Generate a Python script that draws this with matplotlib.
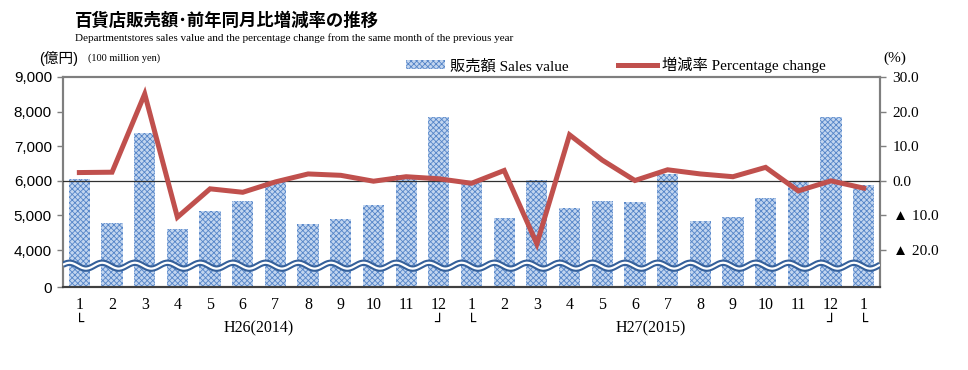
import matplotlib
matplotlib.use("Agg")
import matplotlib.pyplot as plt
import numpy as np
from matplotlib.patches import Patch
from matplotlib.lines import Line2D
from matplotlib.transforms import blended_transform_factory

                                                # Data
months = ["1", "2", "3", "4", "5", "6", "7", "8", "9", "10", "11", "12",
          "1", "2", "3", "4", "5", "6", "7", "8", "9", "10", "11", "12", "1"]
sales = [6050, 4790, 7375, 4620, 5140, 5415, 6010, 4750, 4900, 5300, 6165, 7835,
         5990, 4925, 6020, 5220, 5420, 5395, 6200, 4830, 4950, 5510, 5980, 7835, 5875]
pct_change = [2.4, 2.5, 25.1, -10.5, -2.3, -3.3, -0.3, 2.0, 1.6, -0.1, 1.2, 0.6,
              -0.7, 3.0, -18.2, 13.3, 6.0, 0.1, 3.2, 2.0, 1.2, 3.9, -2.9, 0.0, -2.1]
left_ticks = [4000, 5000, 6000, 7000, 8000, 9000]
right_ticks = [-20, -10, 0, 10, 20, 30]
year_labels = ["H26(2014)", "H27(2015)"]

SERIF = ["Liberation Serif", "Noto Sans CJK JP", "DejaVu Sans"]
SANS = ["Liberation Sans", "Noto Sans CJK JP", "DejaVu Sans"]
BAR_FACE = "#c2d5ef"
BAR_HATCH = "#5585c8"
LINE_RED = "#c0504d"
WAVE_BLUE = "#35609a"

# broken axis: the "0" sits just below 4,000
y_zero = 2934
y_top = 9000

fig = plt.figure(figsize=(9.68, 3.70), dpi=100)
ax = fig.add_axes([0.0651, 0.2243, 0.8440, 0.5676])
ax2 = ax.twinx()
ax.set_zorder(ax2.get_zorder() + 1)
ax.patch.set_visible(False)

x = np.arange(len(sales))

                                                # Bars
plt.rcParams['hatch.linewidth'] = 0.6
plt.rcParams['hatch.color'] = BAR_HATCH
ax.bar(x, sales, width=0.65, color=BAR_FACE, edgecolor=BAR_HATCH, hatch="xxxxxx",
       linewidth=0, zorder=2)

# zero line of percent axis
ax.axhline(6000, color="#303030", lw=0.9, zorder=3)

# wavy break marks
xw = np.linspace(-0.5, len(sales) - 0.5, 800)
wave = 3550 + 85 * np.sin(2 * np.pi * (xw + 0.55))
ax.plot(xw, wave, color=WAVE_BLUE, lw=4.6, zorder=4, solid_capstyle="butt")
ax.plot(xw, wave, color="white", lw=1.6, zorder=5, solid_capstyle="butt")

                                                # Percent line (drawn on the same scale: 6000 + 100 * pct)
pct_on_left = [6000 + 100 * p for p in pct_change]
ax.plot(x, pct_on_left, color=LINE_RED, lw=3.6, zorder=6, solid_joinstyle="miter")

ax.set_xlim(-0.5, len(sales) - 0.5)
ax.set_ylim(y_zero, y_top)
ax2.set_ylim((y_zero - 6000) / 100, (y_top - 6000) / 100)

ax.set_yticks([y_zero] + left_ticks)
ax.set_yticklabels(["0"] + [f"{v:,}" for v in left_ticks], family=SANS, fontsize=11)
ax2.set_yticks(right_ticks)
ax2.set_yticklabels([f"▲ {abs(v):.1f}" if v < 0 else f"{v:.1f}" for v in right_ticks],
                    family=SERIF, fontsize=11)
ax.tick_params(axis="y", length=4, width=1, color="#7f7f7f", pad=4)
ax2.tick_params(axis="y", length=4, width=1, color="#7f7f7f", pad=5)

ax.set_xticks(x)
ax.set_xticklabels(months, family=SERIF, fontsize=11.5)
ax.tick_params(axis="x", length=0, pad=7)

for a in (ax, ax2):
    for s in a.spines.values():
        s.set_color("#7f7f7f")
        s.set_linewidth(1.5)
    a.spines["bottom"].set_color("#404040")

                                                # Year brackets under the months
trans = blended_transform_factory(ax.transData, ax.transAxes)
for i in [0, 12, 24]:
    ax.text(i, -0.17, "└", transform=trans, ha="center", va="center",
            family=["DejaVu Sans"], fontsize=11)
for i in [11, 23]:
    ax.text(i, -0.17, "┘", transform=trans, ha="center", va="center",
            family=["DejaVu Sans"], fontsize=11)
ax.text(5.5, -0.195, year_labels[0], transform=trans, ha="center", va="center",
        family=SERIF, fontsize=11.5)
ax.text(17.5, -0.195, year_labels[1], transform=trans, ha="center", va="center",
        family=SERIF, fontsize=11.5)

                                                # Titles and unit labels
fig.text(0.0775, 0.945, "百貨店販売額･前年同月比増減率の推移", family=SANS,
         fontsize=12.5, fontweight="bold", ha="left", va="center")
fig.text(0.0775, 0.898,
         "Departmentstores sales value and the percentage change from the same month of the previous year",
         family=SERIF, fontsize=8, ha="left", va="center")
fig.text(0.0610, 0.843, "(億円)", family=SANS, fontsize=10.5, ha="center", va="center")
fig.text(0.091, 0.843, "(100 million yen)", family=SERIF, fontsize=7.5, ha="left", va="center")
fig.text(0.9245, 0.843, "(%)", family=SERIF, fontsize=11, ha="center", va="center")

                                                # Legend
handles = [Patch(facecolor=BAR_FACE, edgecolor=BAR_HATCH, hatch="xxxxxx", linewidth=0),
           Line2D([0], [0], color=LINE_RED, lw=3.6)]
fig.legend(handles, ["販売額 Sales value", "増減率 Percentage change"], ncol=2,
           loc="center", bbox_to_anchor=(0.636, 0.824), frameon=False,
           prop={"family": SERIF, "size": 11}, handlelength=2.6, handleheight=0.5,
           columnspacing=3.2, handletextpad=0.3)

fig.savefig("out.png", dpi=100)
